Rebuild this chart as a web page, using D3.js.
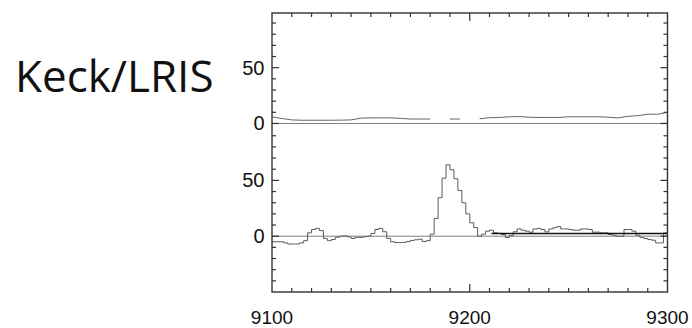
<!DOCTYPE html>
<html><head><meta charset="utf-8">
<script src="https://cdn.jsdelivr.net/npm/d3@7"></script>
<style>html,body{margin:0;padding:0;background:#fff;}svg{display:block;}</style>
</head><body>
<svg id="c" width="692" height="328"></svg>
<script>
// ---- data ----
const title = "Keck/LRIS";
const xDomain = [9100, 9300];
const xMajorTicks = [9100, 9200, 9300];
const xMinorStep = 10;
const binStart = 9100;   // Å
const binWidth = 2;      // Å
// lower panel: binned flux (step histogram), one value per 2 Å bin
const lowerFlux = [
  -5, -5, -5, -6, -7, -7, -7, -6, -4, 3,
   6,  7,  5, -2, -4, -3, -1,  0, 0.3, -0.6,
  -2, -1, -1, -0.5, 0, 2.4, 6, 7, 4, -2,
  -5, -5.7, -5.7, -5.5, -4.8, -3.8, -3.2, -2.7, -4.8, -4,
  1.8, 15.8, 34.5, 52, 64, 59.5, 51.5, 41, 30, 20,
  12, 7.7, 0, 1.8, 4.5, 5.4, 3, 2.5, 1.5, -1.2,
  0.5, 4, 6.5, 5.4, 4.5, 3.6, 6.5, 7, 6, 3.9,
  6.5, 7.5, 8.6, 6.5, 6.5, 6, 5.4, 5.4, 6.5, 6.5,
  6, 3.6, 3.6, 3, 3, 1.5, 0.9, 0, 0, 6,
  6, 4.5, 0.9, -1, -2, -3, -3.6, -6, -6, 3
];
// lower panel: continuum level segment
const contStart = 9211, contEnd = 9300, contLevel = 2.4;
// upper panel: smooth line sampled every 5 Å (null = gap)
const upperWave = d3.range(9100, 9301, 5);
const upperFlux = [
  5.9, 4.5, 3.2, 2.9, 2.9, 2.9, 2.9, 3.0, 3.2, 4.8,
  5.0, 5.0, 5.0, 4.6, 4.0, 4.0, 4.0, null, 4.0, 4.0,
  null, 4.2, 5.2, 5.4, 6.0, 6.2, 5.6, 5.4, 5.4, 5.4,
  6.0, 6.0, 6.0, 6.0, 5.6, 5.0, 6.4, 7.0, 8.3, 8.3, 10
];
const upperOffset = 101;           // vertical offset of the upper panel
const yLabels = [0, 50];           // labels in each panel
const lowerMinorTicks = [-40,-30,-20,-10,10,20,30,40,60,70,80,90];
const upperMinorTicks = [10,20,30,40,60,70,80,90];

// ---- layout ----
const L = 272, R = 667.5, T = 13, B = 292;
const svg = d3.select("#c");
const x = d3.scaleLinear().domain(xDomain).range([L, R]);
const y = d3.scaleLinear().domain([-50, 200]).range([B, T]);
const ink = "#333";

// zero lines
[0, upperOffset].forEach(v => {
  svg.append("line").attr("x1", L).attr("x2", R).attr("y1", y(v)).attr("y2", y(v))
    .attr("stroke", "#808080").attr("stroke-width", 1);
});

// lower step line
const stepData = lowerFlux.map((v, i) => ({w: binStart + i * binWidth, v}));
stepData.push({w: binStart + lowerFlux.length * binWidth, v: lowerFlux[lowerFlux.length - 1]});
svg.append("path")
  .attr("d", d3.line().x(d => x(d.w)).y(d => y(d.v)).curve(d3.curveStepAfter)(stepData))
  .attr("fill", "none").attr("stroke", "#5a5a5a").attr("stroke-width", 1);

// continuum segment
svg.append("line").attr("x1", x(contStart)).attr("x2", x(contEnd))
  .attr("y1", y(contLevel)).attr("y2", y(contLevel))
  .attr("stroke", "#111").attr("stroke-width", 1.6);

// upper line
const upData = upperWave.map((w, i) => ({w, v: upperFlux[i]}));
svg.append("path")
  .attr("d", d3.line().defined(d => d.v !== null).x(d => x(d.w)).y(d => y(d.v + upperOffset))(upData))
  .attr("fill", "none").attr("stroke", "#666").attr("stroke-width", 1);

// frame
svg.append("rect").attr("x", L).attr("y", T).attr("width", R - L).attr("height", B - T)
  .attr("fill", "none").attr("stroke", ink).attr("stroke-width", 1.4);

// x ticks (bottom and top, inward)
const xMinor = d3.range(xDomain[0] + xMinorStep, xDomain[1], xMinorStep);
xMinor.forEach(w => {
  const major = xMajorTicks.includes(w);
  const len = major ? 8 : 4;
  svg.append("line").attr("x1", x(w)).attr("x2", x(w)).attr("y1", B).attr("y2", B - len)
    .attr("stroke", ink).attr("stroke-width", 1.2);
  svg.append("line").attr("x1", x(w)).attr("x2", x(w)).attr("y1", T).attr("y2", T + len)
    .attr("stroke", ink).attr("stroke-width", 1.2);
});
xMajorTicks.forEach(w => {
  svg.append("text").attr("x", x(w)).attr("y", 324).attr("text-anchor", "middle")
    .attr("font-family", "Liberation Sans, Arial, sans-serif").attr("font-size", 19)
    .attr("fill", "#111").text(w);
});

// y ticks (left and right, inward)
function yTick(v, major) {
  const len = major ? 7 : 4;
  svg.append("line").attr("x1", L).attr("x2", L + len).attr("y1", y(v)).attr("y2", y(v))
    .attr("stroke", ink).attr("stroke-width", 1.2);
  svg.append("line").attr("x1", R).attr("x2", R - len).attr("y1", y(v)).attr("y2", y(v))
    .attr("stroke", ink).attr("stroke-width", 1.2);
}
lowerMinorTicks.forEach(v => yTick(v, false));
upperMinorTicks.forEach(v => yTick(v + upperOffset, false));
yLabels.forEach(v => { yTick(v, true); yTick(v + upperOffset, true); });
[0, upperOffset].forEach(off => {
  yLabels.forEach(v => {
    svg.append("text").attr("x", 264.5).attr("y", y(v + off) + 7).attr("text-anchor", "end")
      .attr("font-family", "Liberation Sans, Arial, sans-serif").attr("font-size", 20)
      .attr("fill", "#111").text(v);
  });
});

// title
svg.append("text").attr("x", 15).attr("y", 91.5)
  .attr("font-family", "Open Sans, Noto Sans, sans-serif").attr("font-size", 44)
  .attr("fill", "#111").text(title);
</script>
</body></html>
